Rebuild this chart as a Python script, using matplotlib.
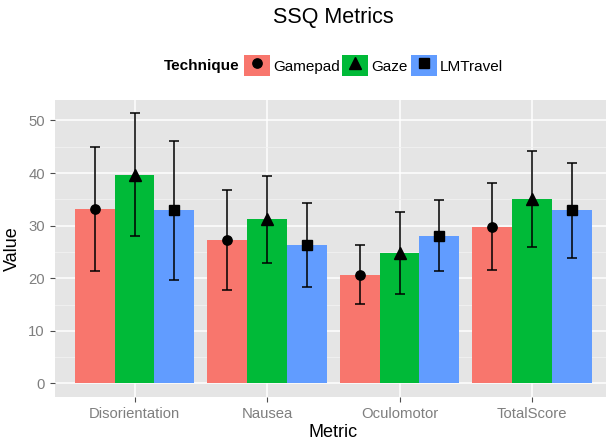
import numpy as np
import matplotlib
matplotlib.use('Agg')
import matplotlib.pyplot as plt
from matplotlib.patches import Patch
from matplotlib.lines import Line2D
from matplotlib.legend_handler import HandlerTuple

plt.rcParams['font.family'] = ['Liberation Sans', 'DejaVu Sans']

metrics = ['Disorientation', 'Nausea', 'Oculomotor', 'TotalScore']
techniques = ['Gamepad', 'Gaze', 'LMTravel']
gamepad_mean = [33.2, 27.2, 20.7, 29.8]
gamepad_sd = [11.8, 9.5, 5.6, 8.3]
gaze_mean = [39.7, 31.2, 24.8, 35.1]
gaze_sd = [11.7, 8.3, 7.8, 9.1]
lmtravel_mean = [32.9, 26.3, 28.1, 32.9]
lmtravel_sd = [13.2, 8.0, 6.8, 9.0]

means = [gamepad_mean, gaze_mean, lmtravel_mean]
sds = [gamepad_sd, gaze_sd, lmtravel_sd]
colors = ['#F8766D', '#00BA38', '#619CFF']
markers = ['o', '^', 's']
msizes = [6.7, 8.4, 7.0]

fig = plt.figure(figsize=(6.06, 4.41), dpi=100)
ax = fig.add_axes([0.0908, 0.0998, 0.9185, 0.6735])
ax.set_facecolor('#E5E5E5')

x = np.arange(1, len(metrics) + 1)
width = 0.3
for i in range(len(techniques)):
    xi = x + (i - 1) * width
    ax.bar(xi, means[i], width=width, color=colors[i], zorder=2)
    ax.errorbar(xi, means[i], yerr=sds[i], fmt='none', ecolor='black',
                elinewidth=1.1, capsize=3.5, capthick=1.1, zorder=3)
    ax.plot(xi, means[i], linestyle='none', marker=markers[i], ms=msizes[i],
            color='black', zorder=4)

ax.set_xlim(0.4, 4.6)
ax.set_ylim(-2.57, 53.9)
ax.set_xticks(x)
ax.set_xticklabels(metrics)
ax.set_yticks(np.arange(0, 51, 10))
ax.set_yticks(np.arange(5, 50, 10), minor=True)
ax.grid(which='major', color='white', lw=1.1, zorder=0)
ax.grid(which='minor', axis='y', color='#F2F2F2', lw=0.6, zorder=0)
ax.set_axisbelow(True)
for s in ax.spines.values():
    s.set_visible(False)
ax.tick_params(which='major', length=3.8, width=0.8, color='#4D4D4D',
               labelcolor='#7F7F7F', labelsize=10.7, pad=3.5)
ax.tick_params(which='minor', length=0)

ax.set_xlabel('Metric', fontsize=13, labelpad=2)
ax.set_ylabel('Value', fontsize=13, labelpad=5)

fig.text(0.55, 0.96, 'SSQ Metrics', fontsize=15.5, ha='center', va='center')

handles = [(Patch(facecolor=colors[i], edgecolor='none'),
            Line2D([], [], linestyle='none', marker=markers[i], ms=msizes[i], color='black'))
           for i in range(len(techniques))]
fig.legend(handles, techniques, handler_map={tuple: HandlerTuple(ndivide=1)},
           loc='center', bbox_to_anchor=(0.6162, 0.851), ncol=3, frameon=False,
           fontsize=11, handlelength=1.7, handleheight=1.7,
           handletextpad=0.22, columnspacing=0.18, borderpad=0)
fig.text(0.2706, 0.851, 'Technique', fontsize=11, fontweight='bold',
         ha='left', va='center')

fig.savefig('out.png', dpi=100)
